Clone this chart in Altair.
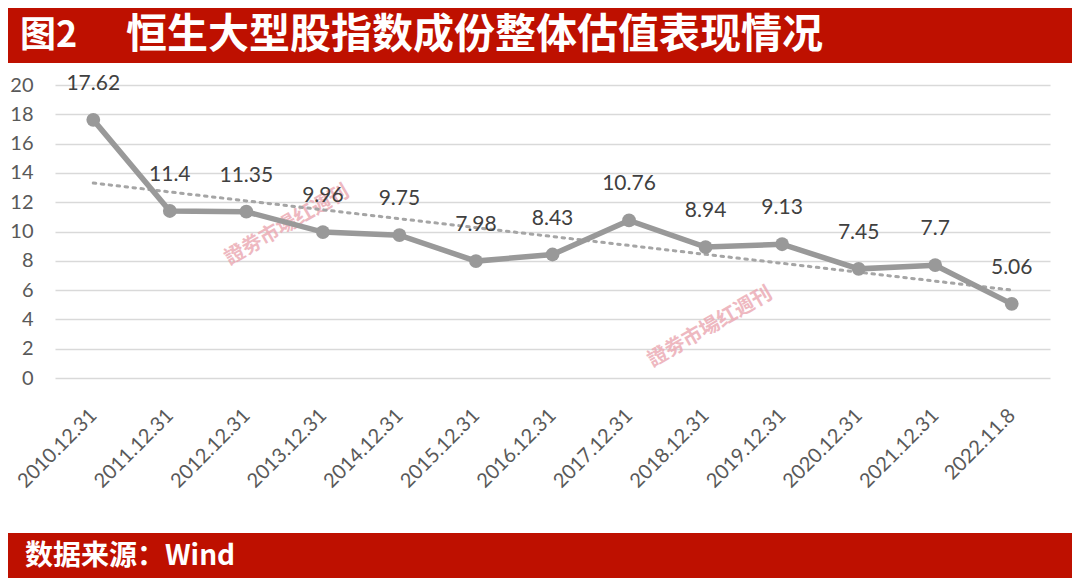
import altair as alt
import pandas as pd

dates = ["2010.12.31", "2011.12.31", "2012.12.31", "2013.12.31", "2014.12.31",
         "2015.12.31", "2016.12.31", "2017.12.31", "2018.12.31", "2019.12.31",
         "2020.12.31", "2021.12.31", "2022.11.8"]
values = [17.62, 11.4, 11.35, 9.96, 9.75, 7.98, 8.43, 10.76, 8.94, 9.13, 7.45, 7.7, 5.06]
y_ticks = list(range(0, 21, 2))
title_fig = "图2"
title_text = "恒生大型股指数成份整体估值表现情况"
source_text = "数据来源：Wind"
watermark = "證劵市場红週刊"

df = pd.DataFrame({"i": list(range(len(dates))), "date": dates, "v": values})
label_expr = "[" + ",".join("'%s'" % d for d in dates) + "][datum.value]"

FONT = "Lato"
CJK = "Noto Sans CJK SC"
RED = "#BE1000"

x = alt.X("i:Q", scale=alt.Scale(domain=[-0.5, len(dates) - 0.5], nice=False, zero=False),
          axis=alt.Axis(values=list(range(len(dates))), labelExpr=label_expr, labelAngle=-45,
                        labelAlign="right", labelBaseline="middle",
                        labelFontSize=20, labelFont=FONT, labelColor="#595959",
                        labelOverlap=False, labelBound=False, labelFlush=False,
                        labelPadding=34, domain=False, ticks=False, grid=False, title=None))
y = alt.Y("v:Q", scale=alt.Scale(domain=[0, 20], nice=False),
          axis=alt.Axis(values=y_ticks, labelFontSize=20, labelFont=FONT, labelColor="#595959",
                        labelPadding=22, domain=False, ticks=False, grid=True,
                        gridColor="#D9D9D9", gridWidth=1.5, title=None))

base = alt.Chart(df)

trend = base.transform_regression("i", "v").mark_line(
    color="#A5A5A5", strokeWidth=3, strokeDash=[2.5, 5.5], strokeCap="round"
).encode(x=x, y=y)

line = base.mark_line(color="#999999", strokeWidth=5.5).encode(x=x, y=y)
pts = base.mark_point(filled=True, color="#999999", size=190, opacity=1).encode(x=x, y=y)
labels = base.mark_text(dy=-36, fontSize=21, font=FONT, color="#404040").encode(
    x=x, y=y, text=alt.Text("v:Q", format="~g"))

bg = pd.DataFrame({"k": [0]})
header = alt.Chart(bg).mark_rect(color=RED).encode(
    x=alt.value(-47), x2=alt.value(1017), y=alt.value(-77), y2=alt.value(-22))
footer = alt.Chart(bg).mark_rect(color=RED).encode(
    x=alt.value(-47), x2=alt.value(1017), y=alt.value(448), y2=alt.value(493))

t1 = alt.Chart(bg).mark_text(text=title_fig, font=CJK, fontSize=36, fontWeight="bold",
                             color="white", align="left", baseline="middle").encode(
    x=alt.value(-35), y=alt.value(-49))
t2 = alt.Chart(bg).mark_text(text=title_text, font=CJK, fontSize=41, fontWeight="bold",
                             color="white", align="left", baseline="middle").encode(
    x=alt.value(71), y=alt.value(-49))
t3 = alt.Chart(bg).mark_text(text=source_text, font=CJK, fontSize=28, fontWeight="bold",
                             color="white", align="left", baseline="middle").encode(
    x=alt.value(-30), y=alt.value(472))

wm1 = alt.Chart(bg).mark_text(text=watermark, font=CJK, fontSize=20, angle=330,
                              fontWeight="bold", color="#EBA7B1", opacity=0.8).encode(
    x=alt.value(232), y=alt.value(140))
wm2 = alt.Chart(bg).mark_text(text=watermark, font=CJK, fontSize=20, angle=330,
                              fontWeight="bold", color="#EBA7B1", opacity=0.8).encode(
    x=alt.value(655), y=alt.value(242))

chart = alt.layer(header, footer, wm1, wm2, trend, line, pts, labels, t1, t2, t3).properties(
    width=995, height=293,
    autosize=alt.AutoSizeParams(type="none"),
    padding={"left": 47, "top": 77, "right": 22, "bottom": 200},
    background="white",
).configure_view(stroke=None)

chart.save("out.html", embed_options={"renderer": "svg", "actions": False})
